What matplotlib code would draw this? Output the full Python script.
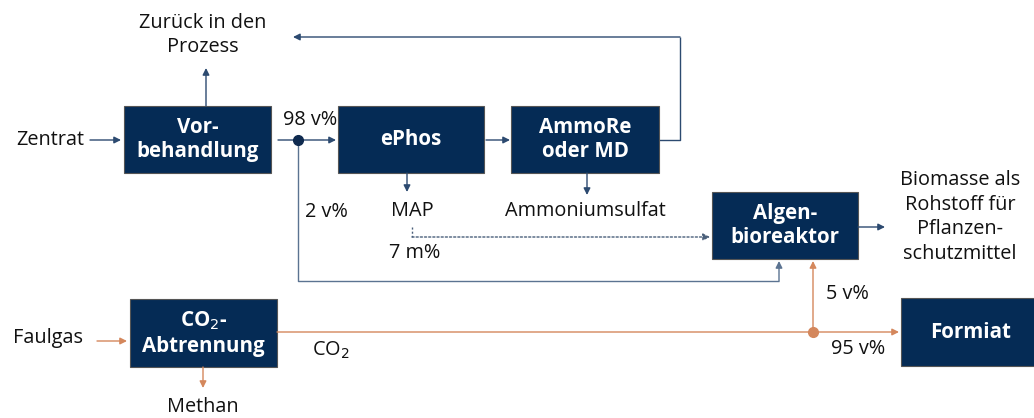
"""
Flow diagram: Zentrat and Faulgas treatment paths.
"""
import matplotlib.pyplot as plt
from matplotlib.patches import Rectangle

# labels
box_labels = ["Vor-\nbehandlung", "ePhos", "AmmoRe\noder MD", "Algen-\nbioreaktor",
              "CO$_2$-\nAbtrennung", "Formiat"]
input_labels = ["Zentrat", "Faulgas"]
output_labels = ["Zurück in den\nProzess", "MAP", "Ammoniumsulfat",
                 "Biomasse als\nRohstoff für\nPflanzen-\nschutzmittel", "Methan"]
split_labels = ["98 v%", "2 v%", "7 m%", "5 v%", "95 v%", "CO$_2$"]

BOX = "#052b55"
BLUE = "#2c4a70"
GREY_BLUE = "#5b7391"
ORANGE = "#d4875c"
FONT = "Open Sans"
FS = 14.3
FS_BOX = 14.8

plt.rcParams['font.family'] = [FONT, 'DejaVu Sans']


def box(ax, x0, y0, x1, y1, text):
    ax.add_patch(Rectangle((x0, y0), x1 - x0, y1 - y0, facecolor=BOX,
                           edgecolor="#555555", linewidth=0.8, zorder=3))
    ax.text((x0 + x1) / 2, (y0 + y1) / 2, text, color="white", fontsize=FS_BOX,
            fontweight="bold", ha="center", va="center", linespacing=1.22, zorder=4)


def arrow(ax, start, end, color, ls="-"):
    ax.annotate("", xy=end, xytext=start,
                arrowprops=dict(arrowstyle="-|>", color=color, lw=1.0, ls=ls,
                                mutation_scale=10, shrinkA=0, shrinkB=0))


def path(ax, pts, color, ls="-"):
    xs = [p[0] for p in pts[:-1]]
    ys = [p[1] for p in pts[:-1]]
    ax.plot(xs, ys, color=color, lw=1.0, ls=ls, solid_capstyle="butt")
    arrow(ax, pts[-2], pts[-1], color, ls)


def label(ax, x, y, text, **kw):
    ax.text(x, y, text, fontsize=FS, color="#111111", ha="center", va="center",
            linespacing=1.32, **kw)


fig = plt.figure(figsize=(10.34, 4.18), dpi=100)
ax = fig.add_axes([0, 0, 1, 1])
ax.set_xlim(0, 1034)
ax.set_ylim(418, 0)
ax.axis("off")

# boxes
box(ax, 124, 106, 271, 173, box_labels[0])
box(ax, 338, 106, 484, 173, box_labels[1])
box(ax, 511, 106, 659, 173, box_labels[2])
box(ax, 712, 192, 858, 259, box_labels[3])
box(ax, 130, 299, 277, 367, box_labels[4])
box(ax, 901, 298, 1040, 366, box_labels[5])

# blue stream
label(ax, 50, 140, input_labels[0])
arrow(ax, (90, 140), (121, 140), BLUE)
arrow(ax, (206, 106), (206, 68), BLUE)
label(ax, 203, 35, output_labels[0])
path(ax, [(659, 140), (680, 140), (680, 37), (293, 37)], BLUE)
arrow(ax, (278, 140), (336, 140), BLUE)
ax.plot([298], [140], "o", color="#0e2a4f", ms=7, zorder=5)
label(ax, 310, 120, split_labels[0])
path(ax, [(298, 140), (298, 281), (779, 281), (779, 261)], GREY_BLUE)
label(ax, 326, 212, split_labels[1])
arrow(ax, (486, 140), (510, 140), BLUE)
arrow(ax, (407, 173), (407, 192), BLUE)
label(ax, 412, 211, output_labels[1])
arrow(ax, (587, 173), (587, 195), BLUE)
label(ax, 585, 211, output_labels[2])
path(ax, [(412, 227), (412, 237), (710, 237)], "#4a5f7a", ls=(0, (1.5, 1.5)))
label(ax, 415, 253, split_labels[2])
arrow(ax, (858, 227), (885, 227), BLUE)
label(ax, 960, 217, output_labels[3])

# orange stream
label(ax, 48, 338, input_labels[1])
arrow(ax, (97, 341), (127, 341), ORANGE)
arrow(ax, (277, 332), (899, 332), ORANGE)
path(ax, [(813, 332), (813, 261)], ORANGE)
ax.plot([813], [332], "o", color=ORANGE, ms=7, zorder=5)
label(ax, 847, 294, split_labels[3])
label(ax, 858, 349, split_labels[4])
label(ax, 331, 350, split_labels[5])
arrow(ax, (203, 367), (203, 388), ORANGE)
label(ax, 203, 407, output_labels[4])

fig.savefig("out.png", dpi=100)
